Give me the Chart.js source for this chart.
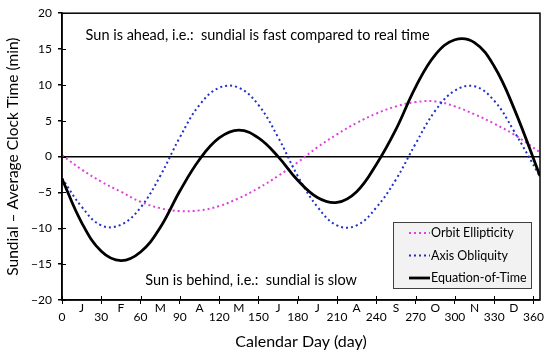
<!DOCTYPE html>
<html>
<head>
<meta charset="utf-8">
<script src="https://cdn.jsdelivr.net/npm/chart.js@4.4.1/dist/chart.umd.min.js"></script>
<style>
  html, body { margin: 0; padding: 0; background: #fff; }
  #wrap { width: 550px; height: 355px; }
</style>
</head>
<body>
<div id="wrap"><canvas id="eotChart" width="550" height="355"></canvas></div>
<script>
// values (minutes), every 15 days
const days = [0, 15, 30, 45, 60, 75, 90, 105, 120, 135, 150, 165, 180, 195, 210, 225, 240, 255, 270, 285, 300, 315, 330, 345, 365];
const orbitEllipticity = [0.2, -1.8, -3.5, -4.9, -6.3, -7.2, -7.6, -7.5, -6.9, -5.8, -4.4, -2.7, -0.8, 1.3, 3.1, 4.7, 6.0, 7.0, 7.6, 7.7, 7.0, 5.9, 4.6, 3.1, 0.6];
const axisObliquity = [-3.0, -7.0, -9.6, -9.5, -7.1, -2.7, 2.7, 7.2, 9.6, 9.6, 7.2, 2.7, -2.7, -7.0, -9.6, -9.6, -7.1, -3.2, 1.8, 6.4, 9.2, 9.8, 7.8, 3.6, -2.8];
const equationOfTime = [-3.1, -9.2, -13.2, -14.5, -13.3, -9.9, -4.8, -0.4, 2.6, 3.7, 2.6, 0.0, -3.3, -5.7, -6.4, -4.9, -1.1, 3.8, 9.7, 14.2, 16.3, 15.9, 12.6, 6.8, -2.7];

const monthLabels = ["J", "F", "M", "A", "M", "J", "J", "A", "S", "O", "N", "D"];
const monthDays = [15, 45, 75, 105, 135, 165, 195, 225, 255, 285, 315, 345];

const FONT = "Lato, 'Liberation Sans', sans-serif";

function toPoints(vals) {
  return days.map((d, i) => ({ x: d, y: vals[i] }));
}

// frame, inner tick marks, month letters, notes and legend box
const decorations = {
  id: "decorations",
  afterDraw(chart) {
    const ctx = chart.ctx;
    const a = chart.chartArea;
    const xs = chart.scales.x;
    const ys = chart.scales.y;
    ctx.save();

    ctx.strokeStyle = "#000";
    ctx.lineWidth = 1.5;
    ctx.strokeRect(a.left, a.top, a.right - a.left, a.bottom - a.top);

    ctx.lineWidth = 1;
    ctx.beginPath();
    ys.ticks.forEach(t => {
      const py = Math.round(ys.getPixelForValue(t.value)) + 0.5;
      ctx.moveTo(a.left, py);
      ctx.lineTo(a.left + 4, py);
    });
    xs.ticks.forEach(t => {
      const px = Math.round(xs.getPixelForValue(t.value)) + 0.5;
      ctx.moveTo(px, a.bottom);
      ctx.lineTo(px, a.bottom - 4);
    });
    ctx.stroke();

    ctx.fillStyle = "#000";
    ctx.font = "12px " + FONT;
    ctx.textAlign = "center";
    ctx.textBaseline = "middle";
    monthLabels.forEach((m, i) => {
      ctx.fillText(m, xs.getPixelForValue(monthDays[i]), a.bottom + 8);
    });

    ctx.font = "14.5px " + FONT;
    ctx.textAlign = "left";
    ctx.fillText("Sun is ahead, i.e.:  sundial is fast compared to real time",
      xs.getPixelForValue(18), ys.getPixelForValue(16.9));
    ctx.fillText("Sun is behind, i.e.:  sundial is slow",
      xs.getPixelForValue(63.5), ys.getPixelForValue(-17.25));

    // legend box
    const bx = a.right - 147, by = a.bottom - 78, bw = 138, bh = 66;
    ctx.fillStyle = "#f2f2f2";
    ctx.fillRect(bx, by, bw, bh);
    ctx.strokeStyle = "#404040";
    ctx.lineWidth = 1;
    ctx.strokeRect(bx + 0.5, by + 0.5, bw, bh);
    ctx.font = "12.5px " + FONT;
    chart.data.datasets.forEach((ds, i) => {
      const ly = by + 11 + i * 22.5;
      ctx.strokeStyle = ds.borderColor;
      ctx.lineWidth = ds.borderWidth;
      ctx.setLineDash(ds.borderDash || []);
      ctx.beginPath();
      ctx.moveTo(bx + 16, ly);
      ctx.lineTo(bx + 37, ly);
      ctx.stroke();
      ctx.setLineDash([]);
      ctx.fillStyle = "#000";
      ctx.fillText(ds.label, bx + 38, ly);
    });
    ctx.restore();
  }
};

new Chart(document.getElementById("eotChart"), {
  type: "line",
  data: {
    datasets: [
      {
        label: "Orbit Ellipticity",
        data: toPoints(orbitEllipticity),
        borderColor: "#e040e0",
        borderWidth: 2,
        borderDash: [2, 3],
        pointRadius: 0,
        tension: 0.4,
        order: 3,
      },
      {
        label: "Axis Obliquity",
        data: toPoints(axisObliquity),
        borderColor: "#2030c8",
        borderWidth: 2,
        borderDash: [2, 3],
        pointRadius: 0,
        tension: 0.4,
        order: 2,
      },
      {
        label: "Equation-of-Time",
        data: toPoints(equationOfTime),
        borderColor: "#000000",
        borderWidth: 2.8,
        pointRadius: 0,
        tension: 0.4,
        order: 1,
      },
    ],
  },
  options: {
    responsive: false,
    animation: false,
    layout: { padding: { top: 8, right: 8, left: 0, bottom: 0 } },
    plugins: {
      legend: { display: false },
      tooltip: { enabled: false },
    },
    scales: {
      x: {
        type: "linear",
        min: 0,
        max: 365,
        afterFit: (s) => { s.height = 55; },
        ticks: {
          stepSize: 30,
          includeBounds: false,
          color: "#000",
          padding: 6,
          font: { family: FONT, size: 12 },
        },
        grid: {
          drawOnChartArea: false,
          tickLength: 4,
          tickColor: "#000",
        },
        border: { color: "#000", width: 1.5 },
        title: {
          display: true,
          text: "Calendar Day (day)",
          color: "#000",
          font: { family: FONT, size: 16 },
          padding: { top: 4 },
        },
      },
      y: {
        min: -20,
        max: 20,
        afterFit: (s) => { s.width = 62; },
        ticks: {
          stepSize: 5,
          color: "#000",
          padding: 6,
          font: { family: FONT, size: 12 },
          callback: (v) => (v < 0 ? "\u2212" + Math.abs(v) : String(v)),
        },
        grid: {
          color: (c) => (c.tick && c.tick.value === 0 ? "#000" : "rgba(0,0,0,0)"),
          lineWidth: 1.5,
          tickLength: 4,
          tickColor: "#000",
        },
        border: { color: "#000", width: 1.5 },
        title: {
          display: true,
          text: "Sundial \u2013 Average Clock Time (min)",
          color: "#000",
          font: { family: FONT, size: 15.5 },
          padding: { top: 4, bottom: 0 },
        },
      },
    },
  },
  plugins: [decorations],
});
</script>
</body>
</html>
